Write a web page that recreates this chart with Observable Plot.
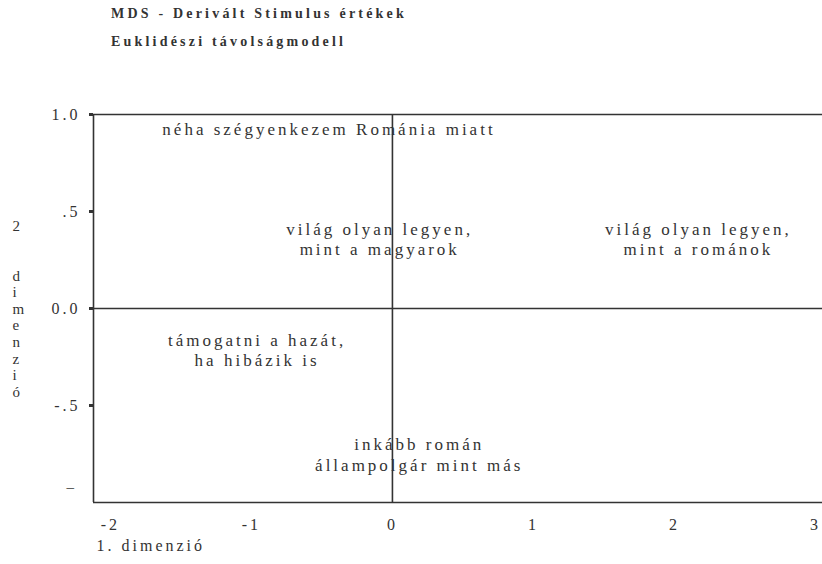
<!DOCTYPE html>
<html><head><meta charset="utf-8">
<script src="https://cdn.jsdelivr.net/npm/d3@7"></script>
<script src="https://cdn.jsdelivr.net/npm/@observablehq/plot@0.6"></script>
<style>
body{margin:0;background:#fff;}
#hdr{height:60px;padding-left:111px;font-family:"Liberation Serif","Times New Roman","DejaVu Serif",serif;font-weight:bold;font-size:14px;letter-spacing:3.2px;color:#333;}
#hdr div{height:28px;line-height:28px;white-space:nowrap;}
</style></head><body>
<div id="hdr"><div id="t1"></div><div id="t2"></div></div>
<div id="chart"></div>
<script>
const title = "MDS - Derivált Stimulus értékek";
const subtitle = "Euklidészi távolságmodell";
const labels = [
  "néha szégyenkezem Románia miatt",
  "világ olyan legyen,\nmint a magyarok",
  "világ olyan legyen,\nmint a románok",
  "támogatni a hazát,\nha hibázik is",
  "inkább román\nállampolgár mint más"
];
const dim1 = [-0.45, -0.09, 2.17, -0.96, 0.19];
const dim2 = [0.93, 0.36, 0.36, -0.21, -0.75];
const xTicks = [-2, -1, 0, 1, 2, 3];
const xTickLabels = ["-2", "-1", "0", "1", "2", "3"];
const yTicks = [1, 0.5, 0, -0.5];
const yTickLabels = ["1.0", ".5", "0.0", "-.5"];
const xLabel = "1. dimenzió";
const yLabel = "2\n\n\nd\ni\nm\ne\nn\nz\ni\nó";
const yLastTick = "–";
const xDomain = [-2.12, 3.05];
const yDomain = [-1, 1];

document.getElementById("t1").textContent = title;
document.getElementById("t2").textContent = subtitle;

const pts = labels.map((l, i) => ({label: l, x: dim1[i], y: dim2[i]}));
const ink = "#333";
const chart = Plot.plot({
  width: 822, height: 504,
  marginLeft: 93, marginRight: 0, marginTop: 54, marginBottom: 62,
  x: {domain: xDomain},
  y: {domain: yDomain},
  style: {fontFamily: "'Liberation Serif', 'Times New Roman', 'DejaVu Serif', serif", fontSize: "16px", color: ink, background: "#fff", letterSpacing: "3px"},
  marks: [
    Plot.ruleY([yDomain[1], 0, yDomain[0]], {stroke: ink, strokeWidth: 1.6}),
    Plot.ruleX([xDomain[0], 0], {stroke: ink, strokeWidth: 1.6}),
    Plot.axisY(yTicks, {tickSize: 4, strokeWidth: 3, tickPadding: 9, fontSize: 16, label: null,
      tickFormat: d => yTickLabels[yTicks.indexOf(d)]}),
    Plot.axisX(xTicks, {tickSize: 0, tickPadding: 16, fontSize: 16, label: null,
      tickFormat: d => xTickLabels[xTicks.indexOf(d)]}),
    Plot.text(pts, {x: "x", y: "y", text: "label", lineHeight: 1.2, fontSize: 17, fill: ink}),
    Plot.text([yLabel], {frameAnchor: "left", dx: -81, text: d => d, lineHeight: 1.11, fontSize: 15, fill: ink}),
    Plot.text([xLabel], {frameAnchor: "bottom-left", dx: 3, dy: 48, textAnchor: "start", text: d => d, fontSize: 16, fill: ink}),
    Plot.text([yLastTick], {frameAnchor: "bottom-left", dx: -27, dy: -11, text: d => d, fontSize: 15, fill: ink})
  ]
});
document.getElementById("chart").appendChild(chart);
</script>
</body></html>
